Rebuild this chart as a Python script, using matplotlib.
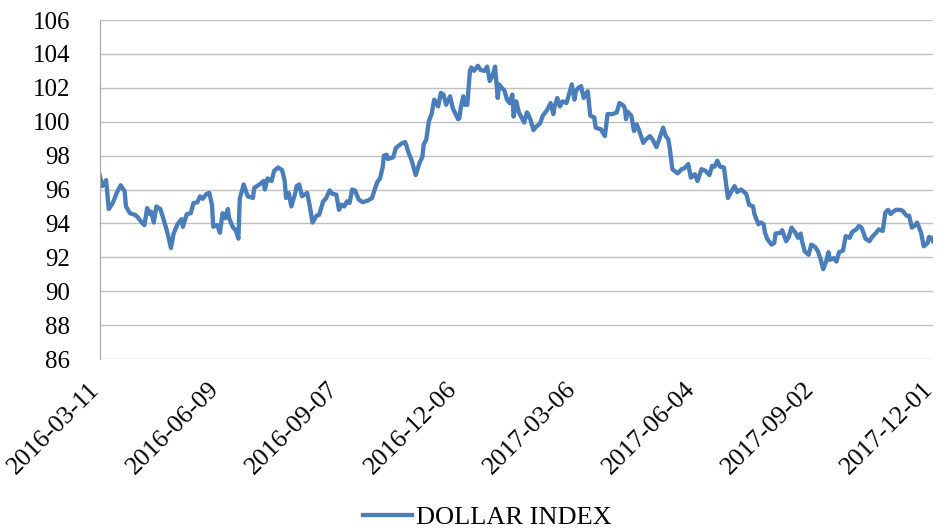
import numpy as np
import pandas as pd
import matplotlib
matplotlib.use("Agg")
import matplotlib.pyplot as plt
import matplotlib.dates as mdates
import matplotlib.transforms as mtransforms

START = "2016-03-11"

# days after START, and the index value on that day
day = [0, 2, 4, 5, 7, 10, 13, 16, 19, 20, 23, 27, 29, 32, 34, 36, 38, 39, 41, 43,
       46, 48, 51, 54, 56, 59, 62, 63, 66, 69, 71, 74, 76, 78, 81, 83, 85, 86, 89, 91,
       93, 95, 97, 98, 101, 103, 105, 106, 109, 112, 116, 117, 121, 124, 125, 127, 130, 132, 135, 138,
       140, 141, 143, 145, 148, 149, 151, 153, 155, 157, 159, 161, 164, 166, 169, 171, 174, 176, 179, 181,
       183, 185, 187, 189, 191, 193, 196, 199, 203, 206, 208, 210, 212, 214, 215, 217, 218, 222, 224, 228,
       231, 232, 233, 236, 239, 242, 244, 245, 247, 249, 251, 253, 256, 258, 260, 262, 265, 267, 271, 272,
       273, 275, 276, 278, 280, 281, 283, 286, 288, 291, 293, 295, 297, 299, 301, 302, 304, 306, 308, 310,
       312, 313, 315, 317, 319, 321, 323, 324, 326, 328, 330, 333, 335, 338, 341, 343, 344, 346, 348, 350,
       353, 355, 357, 359, 360, 362, 364, 366, 369, 371, 374, 375, 379, 382, 384, 388, 391, 393, 396, 397,
       398, 399, 402, 404, 406, 408, 411, 413, 416, 418, 421, 423, 426, 428, 430, 431, 433, 437, 440, 442,
       445, 447, 450, 452, 455, 458, 461, 463, 465, 467, 469, 472, 475, 477, 480, 482, 485, 488, 489, 491,
       494, 495, 498, 500, 502, 503, 505, 508, 510, 511, 515, 516, 519, 521, 523, 526, 528, 530, 531, 533,
       536, 538, 541, 543, 545, 547, 549, 551, 552, 555, 557, 559, 562, 564, 567, 569, 572, 574, 576, 579,
       582, 584, 587, 589, 592, 594, 596, 598, 600, 602, 605, 607, 610, 612, 614, 616, 618, 621, 623, 626,
       627, 629, 630]

dollar_index = [96.9, 96.2, 96.4, 96.55, 94.85, 95.2, 95.8, 96.25, 95.9, 95.0, 94.6, 94.5, 94.35, 94.05, 93.9, 94.9, 94.55, 94.7, 94.05, 95.0,
                94.85, 94.35, 93.55, 92.55, 93.4, 93.95, 94.25, 93.8, 94.55, 94.6, 95.2, 95.25, 95.6, 95.45, 95.75, 95.8, 95.1, 93.8, 93.9, 93.45,
                94.6, 94.3, 94.85, 94.3, 93.75, 93.6, 93.1, 95.45, 96.3, 95.6, 95.5, 96.1, 96.3, 96.5, 96.0, 96.65, 96.5, 97.1, 97.3, 97.15,
                96.5, 95.5, 95.8, 95.0, 95.8, 96.2, 96.3, 95.6, 95.7, 95.8, 95.0, 94.05, 94.45, 94.5, 95.3, 95.45, 95.95, 95.75, 95.7, 94.8,
                95.1, 95.0, 95.3, 95.2, 96.0, 95.95, 95.4, 95.25, 95.35, 95.5, 96.0, 96.45, 96.65, 97.3, 98.0, 98.05, 97.8, 97.9, 98.45, 98.7,
                98.8, 98.6, 98.3, 97.7, 96.85, 97.6, 97.9, 98.65, 98.95, 100.05, 100.45, 101.3, 100.9, 101.7, 101.6, 101.0, 101.5, 100.8, 100.15, 100.2,
                100.8, 101.5, 101.0, 101.0, 103.0, 103.2, 103.0, 103.3, 103.05, 103.0, 103.25, 102.4, 102.7, 103.25, 101.4, 102.2, 102.0, 101.85, 101.3, 101.1,
                101.6, 100.3, 101.2, 100.55, 100.25, 99.95, 100.55, 100.45, 100.05, 99.5, 99.7, 99.9, 100.35, 100.65, 101.1, 100.45, 100.9, 101.4, 100.9, 101.2,
                101.1, 101.65, 102.2, 101.3, 101.8, 102.0, 102.1, 101.4, 101.8, 100.35, 100.25, 99.65, 99.55, 99.15, 100.45, 100.45, 100.55, 101.1, 100.95, 100.8,
                100.15, 100.6, 100.35, 99.45, 99.85, 99.45, 98.75, 98.95, 99.15, 98.95, 98.5, 98.95, 99.65, 99.15, 98.95, 98.45, 97.2, 96.95, 97.2, 97.25,
                97.5, 96.7, 96.9, 96.5, 97.2, 97.1, 96.85, 97.4, 97.35, 97.7, 97.35, 97.3, 95.5, 95.8, 96.2, 95.85, 96.0, 95.8, 95.7, 95.1,
                95.0, 94.55, 93.95, 94.05, 93.95, 93.45, 93.05, 92.75, 92.85, 93.4, 93.45, 93.6, 92.95, 93.2, 93.75, 93.45, 93.15, 93.4, 92.95, 92.35,
                92.15, 92.75, 92.6, 92.35, 91.9, 91.3, 91.7, 92.3, 91.85, 91.95, 91.75, 92.3, 92.4, 93.25, 93.15, 93.5, 93.65, 93.85, 93.75, 93.1,
                92.95, 93.2, 93.45, 93.65, 93.55, 94.65, 94.8, 94.55, 94.7, 94.8, 94.8, 94.75, 94.45, 94.45, 93.75, 93.85, 94.05, 93.45, 92.65, 92.85,
                93.2, 93.15, 92.95]

y_ticks = [86, 88, 90, 92, 94, 96, 98, 100, 102, 104, 106]
series_name = "DOLLAR INDEX"

plt.rcParams['font.family'] = ['Liberation Serif', 'DejaVu Serif']

dates = pd.to_datetime(START) + pd.to_timedelta(day, unit="D")
tick_dates = pd.date_range(START, periods=8, freq="90D")

fig = plt.figure(figsize=(9.38, 5.31), dpi=100)
ax = fig.add_axes([99.5 / 938, 1 - 359 / 531, (933 - 99.5) / 938, (359 - 20) / 531])

line, = ax.plot(dates, dollar_index, color="#4a7ebb", linewidth=3.1,
                solid_joinstyle="round", label=series_name)

ax.set_ylim(86, 106)
ax.set_yticks(y_ticks)
ax.set_xlim(tick_dates[0], tick_dates[-1])
ax.set_xticks(tick_dates)
ax.xaxis.set_major_formatter(mdates.DateFormatter("%Y-%m-%d"))

ax.grid(axis="y", color="#c0c0c0", linewidth=1.0)
ax.set_axisbelow(True)
for s in ["top", "right", "bottom"]:
    ax.spines[s].set_visible(False)
ax.spines["left"].set_color("#a6a6a6")
ax.tick_params(axis="y", length=0, labelsize=18, pad=21)
ax.tick_params(axis="x", length=0, labelsize=18.5, pad=14)

shift = mtransforms.ScaledTranslation(-11 / 100, 0, fig.dpi_scale_trans)
for lab in ax.get_xticklabels():
    lab.set_rotation(45)
    lab.set_ha("right")
    lab.set_rotation_mode("anchor")
    lab.set_transform(lab.get_transform() + shift)

fig.legend(handles=[line], loc="center", bbox_to_anchor=(487 / 938, 1 - 517 / 531),
           frameon=False, fontsize=19, handlelength=1.85, handletextpad=0.15)

fig.savefig("out.png", dpi=100)
